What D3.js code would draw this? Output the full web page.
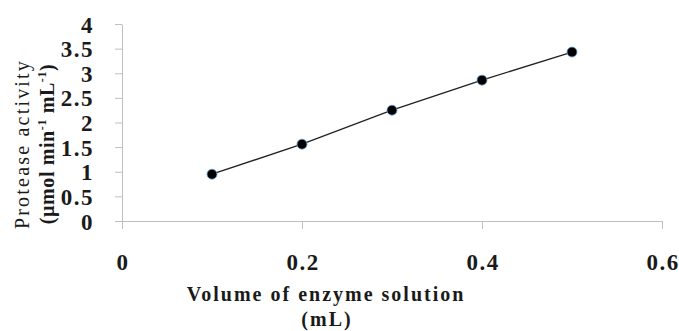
<!DOCTYPE html>
<html lang="en">
<head>
<meta charset="utf-8">
<title>Protease activity</title>
<script src="https://cdn.jsdelivr.net/npm/d3@7"></script>
<style>
  body { margin: 0; background: #fff; }
  text { font-family: "Liberation Serif", "Times New Roman", serif; fill: #1a1a1a; }
  .tick text { font-weight: bold; font-size: 23px; letter-spacing: 1.5px; }
  .domain, .tick line { stroke: #bfbfbf; }
</style>
</head>
<body>
<script>
// data
var volumes = [0.1, 0.2, 0.3, 0.4, 0.5];
var activity = [0.95, 1.56, 2.25, 2.86, 3.43];
var xTicks = [0, 0.2, 0.4, 0.6];
var yTicks = [0, 0.5, 1, 1.5, 2, 2.5, 3, 3.5, 4];

var w = 679, h = 331;
var svg = d3.select("body").append("svg")
  .attr("width", w).attr("height", h);

var x = d3.scaleLinear().domain([0, 0.6]).range([122, 662]);
var y = d3.scaleLinear().domain([0, 4]).range([221, 24]);

// y axis
var gy = svg.append("g")
  .attr("transform", "translate(122,0)")
  .call(d3.axisLeft(y).tickValues(yTicks).tickSize(7).tickSizeOuter(0)
    .tickPadding(21).tickFormat(d3.format("")));
gy.selectAll(".tick text").attr("dy", "0.35em");

// x axis
var gx = svg.append("g")
  .attr("transform", "translate(0,221)")
  .call(d3.axisBottom(x).tickValues(xTicks).tickSize(8).tickSizeOuter(0)
    .tickPadding(25).tickFormat(d3.format("")));
gx.selectAll(".tick text").attr("dx", "0.5px");

// line + points
var line = d3.line()
  .x(function(d, i) { return x(volumes[i]); })
  .y(function(d) { return y(d); });

svg.append("path")
  .datum(activity)
  .attr("d", line)
  .attr("fill", "none")
  .attr("stroke", "#222")
  .attr("stroke-width", 1.3);

svg.selectAll("circle")
  .data(activity)
  .enter()
  .append("circle")
  .attr("cx", function(d, i) { return x(volumes[i]); })
  .attr("cy", function(d) { return y(d); })
  .attr("r", 5)
  .attr("fill", "#000")
  .attr("stroke", "#6fa0d8")
  .attr("stroke-width", 0.8);

// x title
var xt = svg.append("text")
  .attr("text-anchor", "middle")
  .style("font-weight", "bold")
  .style("font-size", "20px")
  .style("letter-spacing", "2px");
xt.append("tspan").attr("x", 326).attr("y", 301).text("Volume of enzyme solution");
xt.append("tspan").attr("x", 327).attr("y", 326).text("(mL)");

// y title
var yt = svg.append("g").attr("transform", "translate(0,144) rotate(-90)");
yt.append("text")
  .attr("x", 0).attr("y", 29)
  .attr("text-anchor", "middle")
  .style("font-size", "20px")
  .style("letter-spacing", "2.2px")
  .text("Protease activity");
var y2 = yt.append("text")
  .attr("x", 0).attr("y", 54)
  .attr("text-anchor", "middle")
  .style("font-size", "20px")
  .style("font-weight", "bold")
  .style("letter-spacing", "0.6px");
y2.append("tspan").text("(µmol min");
y2.append("tspan").attr("dy", -8).style("font-size", "12px").text("-1");
y2.append("tspan").attr("dy", 8).text(" mL");
y2.append("tspan").attr("dy", -8).style("font-size", "12px").text("-1");
y2.append("tspan").attr("dy", 8).text(")");
</script>
</body>
</html>
